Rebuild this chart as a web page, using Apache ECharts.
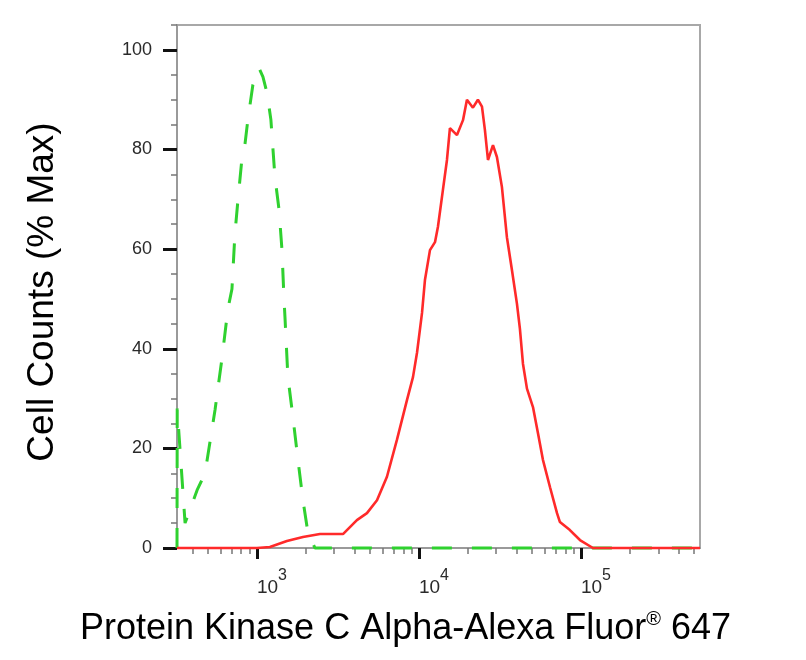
<!DOCTYPE html>
<html>
<head>
<meta charset="utf-8">
<script src="https://cdn.jsdelivr.net/npm/echarts@6/dist/echarts.min.js"></script>
<style>
  html, body { margin: 0; padding: 0; background: #fff; }
  #chart { width: 806px; height: 660px; }
</style>
</head>
<body>
<div id="chart"></div>
<script>
// ---- data (fluorescence intensity, % of max) ----
const isotypeX = [321, 322, 360, 427, 478, 551, 608, 662, 701, 731, 764, 807, 843, 879, 944, 1028, 1089, 1153, 1219, 1291, 1368, 1426, 1469, 1489, 1552, 1667, 1791, 1923, 2065, 2280, 543000];
const isotypeY = [0, 28, 5, 11.6, 15, 27.7, 38, 48, 52, 63, 70, 78, 81, 86, 93, 96.4, 94.6, 91.4, 86, 74.5, 68, 60, 50, 46.4, 34.4, 26.3, 17.7, 9.6, 3, 0, 0];

const pkcX = [321, 1000, 1202, 1531, 1923, 2449, 3396, 4140, 4775, 5508, 6346, 7311, 8433, 9186, 9727, 10445, 10889, 11695, 12560, 13100, 14060, 14890, 15530, 17170, 18700, 19780, 21540, 23120, 24490, 25540, 26670, 28640, 30290, 32510, 34910, 37490, 40270, 42000, 43850, 46420, 50560, 54330, 58250, 64420, 71150, 74170, 85470, 98560, 118600, 543000];
const pkcY = [0, 0, 0.2, 1.4, 2.2, 2.8, 2.8, 5.6, 7.0, 9.6, 14.3, 21.7, 29.7, 34.3, 39.2, 47.2, 53.8, 59.8, 61.4, 64.5, 71.9, 77.9, 84.3, 82.9, 85.9, 90.0, 88.4, 90.0, 88.6, 83.9, 77.9, 80.9, 78.5, 72.5, 62.4, 55.8, 49, 44, 37, 32, 28.3, 23, 17.7, 12.2, 7, 5.2, 3.6, 1.6, 0, 0];

const xMajorTicks = [1000, 10000, 100000];
const xMinorTicks = [400, 500, 600, 700, 800, 900, 2000, 3000, 4000, 5000, 6000, 7000, 8000, 9000, 20000, 30000, 40000, 50000, 60000, 70000, 80000, 90000, 200000, 300000, 400000, 500000];
const yMajorTicks = [0, 20, 40, 60, 80, 100];
const yMinorTicks = [5, 10, 15, 25, 30, 35, 45, 50, 55, 65, 70, 75, 85, 90, 95, 105];

const xTitle = 'Protein Kinase C Alpha-Alexa Fluor';
const xTitleSup = '®';
const xTitleTail = ' 647';
const yTitle = 'Cell Counts (% Max)';

const X_MIN = 321, X_MAX = 543000, Y_MIN = 0, Y_MAX = 105;
const FONT = '"Liberation Sans", Arial, Helvetica, sans-serif';

function pairs(xs, ys) { return xs.map((x, i) => [x, ys[i]]); }

const chart = echarts.init(document.getElementById('chart'), null, { renderer: 'canvas' });

chart.setOption({
  animation: false,
  backgroundColor: '#ffffff',
  grid: {
    left: 177, right: 106, top: 25, bottom: 112,
    show: true, borderColor: '#a8a8a8', borderWidth: 2, backgroundColor: 'transparent'
  },
  xAxis: [
    {
      type: 'log', logBase: 10, min: X_MIN, max: X_MAX, position: 'bottom',
      axisLine: { show: true, lineStyle: { color: '#9a9a9a', width: 2 } },
      axisTick: { show: true, customValues: xMajorTicks, length: 11, lineStyle: { color: '#111', width: 3 } },
      axisLabel: {
        show: true, customValues: xMajorTicks, align: 'left', margin: 20,
        formatter: v => '{b|10}{s|' + Math.round(Math.log10(v)) + '}',
        rich: {
          b: { fontSize: 19, fontFamily: FONT, color: '#2a2a2a', lineHeight: 29, verticalAlign: 'bottom' },
          s: { fontSize: 16, fontFamily: FONT, color: '#2a2a2a', verticalAlign: 'top' }
        }
      },
      splitLine: { show: false }, minorTick: { show: false }, minorSplitLine: { show: false }
    },
    {
      type: 'log', logBase: 10, min: X_MIN, max: X_MAX, position: 'bottom',
      axisLine: { show: false },
      axisTick: { show: true, customValues: xMinorTicks, length: 6, lineStyle: { color: '#777', width: 1.5 } },
      axisLabel: { show: false },
      splitLine: { show: false }
    }
  ],
  yAxis: [
    {
      type: 'value', min: Y_MIN, max: Y_MAX, position: 'left',
      axisLine: { show: true, lineStyle: { color: '#9a9a9a', width: 2 } },
      axisTick: { show: true, customValues: yMajorTicks, length: 14, lineStyle: { color: '#111', width: 3 } },
      axisLabel: { show: true, customValues: yMajorTicks, margin: 25, fontSize: 18, fontFamily: FONT, color: '#2a2a2a' },
      splitLine: { show: false }
    },
    {
      type: 'value', min: Y_MIN, max: Y_MAX, position: 'left',
      axisLine: { show: false },
      axisTick: { show: true, customValues: yMinorTicks, length: 6, lineStyle: { color: '#777', width: 1.5 } },
      axisLabel: { show: false },
      splitLine: { show: false }
    }
  ],
  series: [
    {
      name: 'Isotype control', type: 'line', xAxisIndex: 0, yAxisIndex: 0,
      data: pairs(isotypeX, isotypeY), showSymbol: false, smooth: false, clip: false,
      lineStyle: { color: '#2fd12f', width: 3, type: [20, 20] }, z: 3
    },
    {
      name: 'PKC alpha', type: 'line', xAxisIndex: 0, yAxisIndex: 0,
      data: pairs(pkcX, pkcY), showSymbol: false, smooth: false, clip: false,
      lineStyle: { color: '#ff2a2a', width: 2.6 }, z: 4
    }
  ],
  graphic: [
    {
      type: 'text', left: 80, top: 609,
      style: {
        text: '{a|' + xTitle + '}{r|' + xTitleSup + '}{a|' + xTitleTail + '}',
        rich: {
          a: { fontSize: 36, fontFamily: FONT, fill: '#000', lineHeight: 40 },
          r: { fontSize: 20, fontFamily: FONT, fill: '#000', lineHeight: 32, verticalAlign: 'top' }
        }
      }
    },
    {
      type: 'text', x: 43, y: 292, rotation: Math.PI / 2,
      style: { text: yTitle, font: '37px ' + FONT, fill: '#000', align: 'center', verticalAlign: 'middle' }
    }
  ]
});
</script>
</body>
</html>
